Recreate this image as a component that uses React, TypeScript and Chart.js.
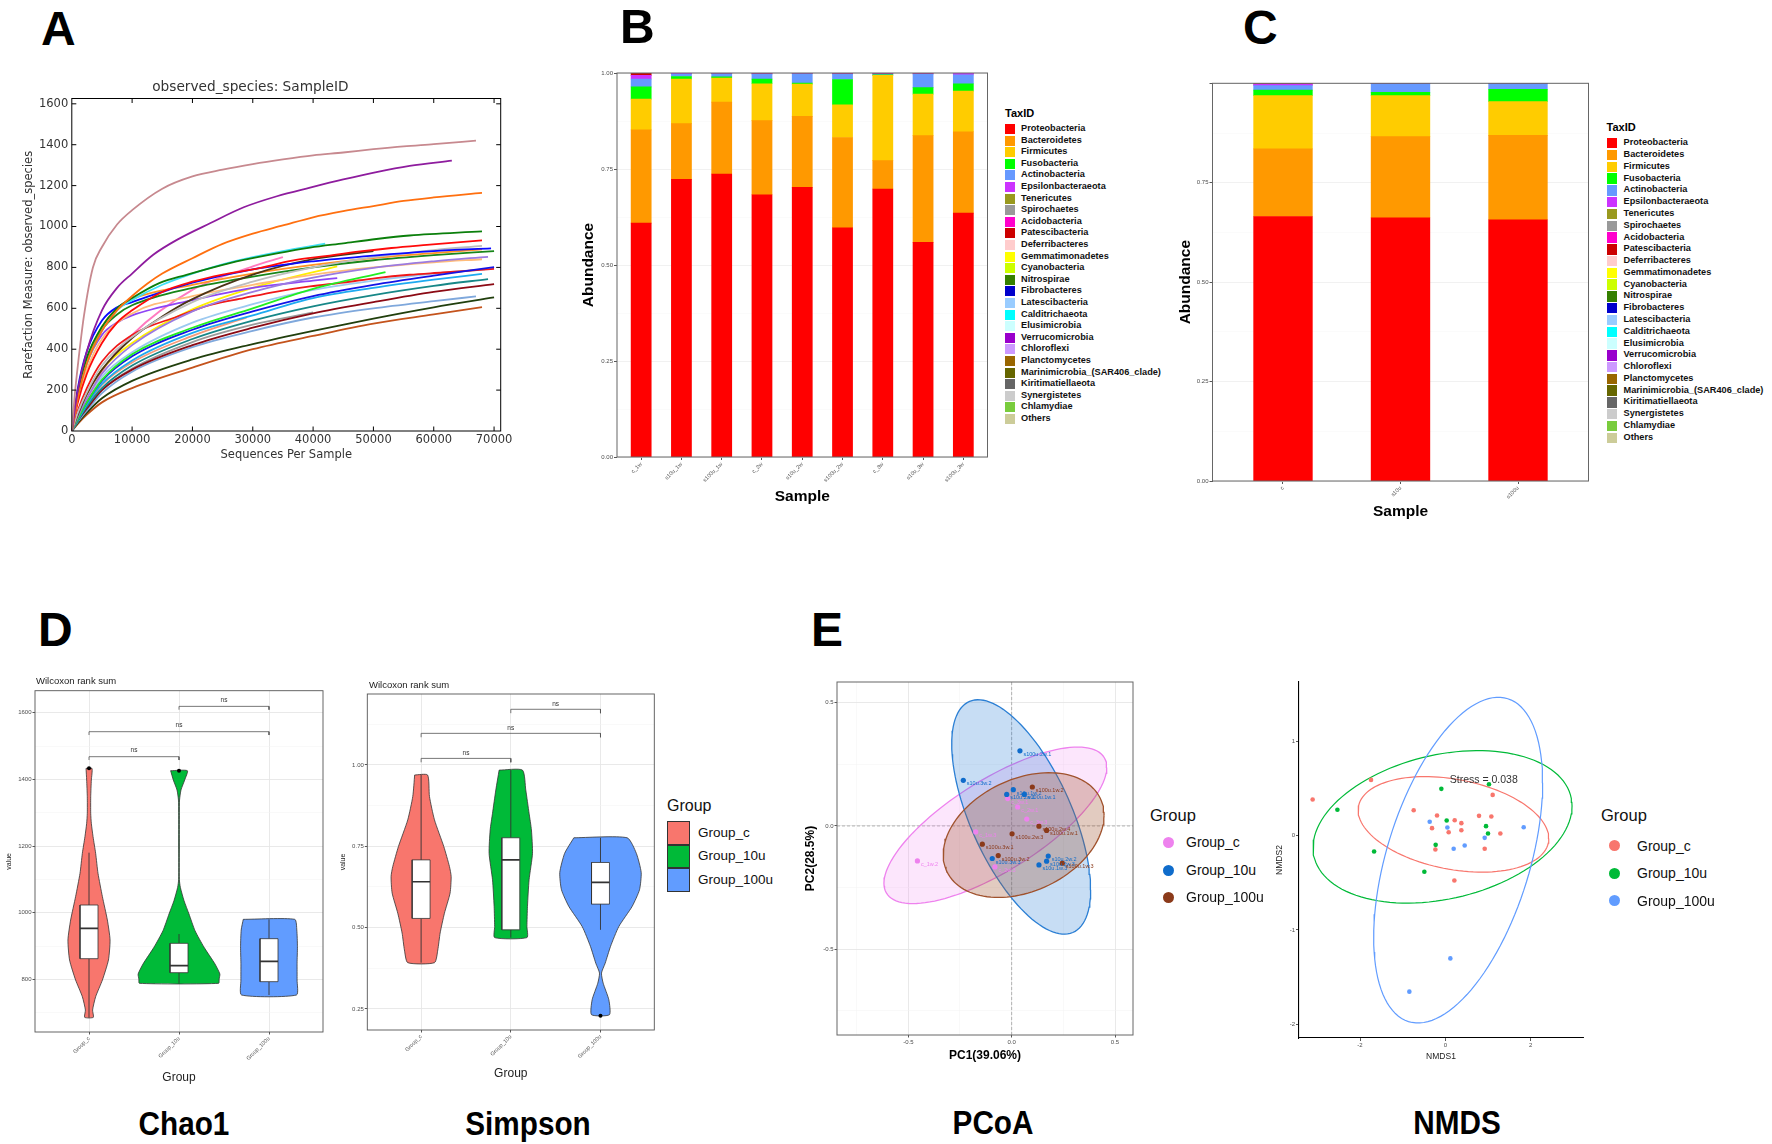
import React, { useEffect, useRef } from 'react';
import { Chart, registerables } from 'chart.js';

Chart.register(...registerables);
Chart.defaults.font.family = "'Liberation Sans', Arial, Helvetica, sans-serif";

// ================= Panel A : rarefaction curves =================
const rareXTicks = [0, 10000, 20000, 30000, 40000, 50000, 60000, 70000];
const rareYTicks = [0, 200, 400, 600, 800, 1000, 1200, 1400, 1600];
const rareColors = ['#C7898F', '#8E1C9E', '#FF6F0F', '#0B7F0B', '#3FE0F5', '#FF0A0A', '#0A0AFF', '#BDBDBD', '#4B3416', '#FF9124', '#18861A', '#9B7BE0', '#FFBC7A', '#22EE22', '#1414E6', '#F01818', '#1EAAF0', '#178787', '#8B0A14', '#7FA8DC', '#213F0D', '#C4531C', '#8F45F5', '#FFF000', '#FF7AC0', '#F59A78', '#9A9A9A', '#9CC9F0'];
const rare01 = [[0, 0], [500, 180], [1000, 320], [2000, 560], [3500, 800], [5000, 900], [7500, 1010], [10000, 1080], [15000, 1185], [20000, 1245], [25000, 1278], [30000, 1305], [35000, 1328], [40000, 1348], [45000, 1362], [50000, 1378], [55000, 1392], [60000, 1403], [67000, 1420]];
const rare02 = [[0, 0], [1000, 200], [2500, 390], [5000, 590], [7500, 700], [10000, 770], [13500, 862], [17500, 936], [23000, 1017], [28500, 1094], [34000, 1148], [39500, 1190], [45000, 1230], [50500, 1266], [56000, 1296], [63000, 1322]];
const rare03 = [[0, 0], [1000, 160], [2500, 330], [5000, 490], [7500, 590], [10000, 660], [12500, 720], [15000, 770], [20000, 845], [25000, 915], [30000, 965], [35000, 1005], [40000, 1045], [45000, 1075], [50000, 1100], [55000, 1125], [60000, 1142], [68000, 1164]];
const rare04 = [[0, 0], [1000, 190], [2500, 360], [5000, 510], [7500, 600], [10000, 650], [14500, 723], [19000, 764], [23000, 797], [28500, 837], [34000, 869], [39500, 897], [45000, 918], [50500, 939], [56000, 956], [68000, 976]];
const rare05 = [[0, 0], [1000, 170], [2500, 330], [5000, 490], [7500, 590], [10000, 640], [15000, 715], [20000, 770], [25000, 815], [30000, 850], [35000, 880], [42000, 916]];
const rare06 = [[0, 0], [1000, 140], [2500, 280], [5000, 430], [7500, 530], [10000, 590], [15000, 680], [20000, 730], [25000, 765], [30000, 790], [36750, 834], [42000, 855], [47800, 878], [53000, 895], [58850, 910], [68000, 932]];
const rare07 = [[0, 0], [1000, 210], [2500, 390], [5000, 540], [7500, 605], [10000, 630], [15000, 680], [20000, 725], [30000, 790], [40000, 830], [50000, 858], [60000, 880], [69500, 893]];
const rare08 = [[0, 0], [1000, 90], [2500, 190], [5000, 320], [10000, 460], [20000, 630], [30000, 730], [40000, 800], [50000, 850], [60000, 885], [68000, 905]];
const rare09 = [[0, 0], [1000, 80], [2500, 180], [5000, 300], [10000, 455], [15000, 560], [20000, 645], [30000, 765], [40000, 840], [50000, 880]];
const rare10 = [[0, 0], [1000, 180], [2500, 350], [5000, 510], [7500, 600], [10000, 645], [20000, 715], [30000, 770], [40000, 812], [50000, 845], [60000, 870], [68000, 888]];
const rare11 = [[0, 0], [1000, 180], [2500, 350], [5000, 495], [7500, 570], [10000, 615], [20000, 700], [30000, 755], [40000, 800], [50000, 835], [60000, 860], [70000, 880]];
const rare12 = [[0, 0], [1000, 70], [2500, 160], [5000, 280], [10000, 420], [20000, 585], [30000, 680], [40000, 750], [50000, 798], [60000, 830], [69000, 852]];
const rare13 = [[0, 0], [1000, 150], [2500, 300], [5000, 450], [10000, 575], [20000, 660], [30000, 715], [40000, 765], [50000, 800], [60000, 825], [68000, 840]];
const rare14 = [[0, 0], [1000, 60], [2500, 140], [5000, 250], [10000, 375], [20000, 505], [30000, 600], [40000, 695], [52000, 777]];
const rare15 = [[0, 0], [1000, 60], [2500, 140], [5000, 245], [10000, 365], [20000, 495], [30000, 585], [40000, 660], [50000, 715], [60000, 760], [70000, 801]];
const rare16 = [[0, 0], [1000, 100], [2500, 210], [5000, 340], [10000, 470], [17500, 560], [23000, 617], [28500, 650], [34000, 682], [39500, 707], [45000, 726], [50500, 748], [56000, 764], [61500, 775], [70000, 793]];
const rare17 = [[0, 0], [1000, 55], [2500, 130], [5000, 230], [10000, 345], [20000, 480], [30000, 565], [40000, 650], [50000, 700], [60000, 740], [68000, 768]];
const rare18 = [[0, 0], [1000, 50], [2500, 120], [5000, 210], [10000, 320], [20000, 450], [30000, 540], [40000, 610], [50000, 665], [60000, 710], [69000, 743]];
const rare19 = [[0, 0], [1000, 50], [2500, 110], [5000, 200], [10000, 300], [20000, 420], [30000, 505], [40000, 575], [50000, 630], [60000, 680], [70000, 718]];
const rare20 = [[0, 0], [1000, 45], [2500, 100], [5000, 185], [10000, 290], [20000, 410], [30000, 490], [40000, 555], [50000, 600], [60000, 635], [67000, 658]];
const rare21 = [[0, 0], [1000, 40], [2500, 90], [5000, 160], [10000, 245], [20000, 350], [30000, 425], [40000, 490], [50000, 550], [60000, 605], [70000, 653]];
const rare22 = [[0, 0], [1000, 35], [2500, 80], [5000, 140], [10000, 210], [20000, 310], [30000, 400], [40000, 465], [50000, 525], [60000, 570], [68000, 606]];
const rare23 = [[0, 0], [1000, 170], [2500, 330], [5000, 470], [7500, 530], [10000, 565], [20000, 640], [30000, 700], [40000, 735], [44000, 748]];
const rare24 = [[0, 0], [1000, 80], [2500, 180], [5000, 300], [10000, 430], [20000, 595], [30000, 700], [44000, 805]];
const rare25 = [[0, 0], [1000, 60], [2500, 150], [5000, 290], [10000, 470], [20000, 690], [30000, 805], [35000, 850]];
const rare26 = [[0, 0], [1000, 50], [2500, 120], [5000, 225], [10000, 335], [20000, 465], [29000, 555]];
const rare27 = [[0, 0], [1000, 45], [2500, 105], [5000, 200], [10000, 305], [20000, 435], [30000, 520], [40000, 580]];
const rare28 = [[0, 0], [1000, 65], [2500, 150], [5000, 265], [10000, 385], [20000, 530], [30000, 620], [40000, 690], [50000, 735], [60000, 770], [68500, 790]];
const rareCurves = [rare01, rare02, rare03, rare04, rare05, rare06, rare07, rare08, rare09, rare10, rare11, rare12, rare13, rare14, rare15, rare16, rare17, rare18, rare19, rare20, rare21, rare22, rare23, rare24, rare25, rare26, rare27, rare28];

// ================= Panels B / C : stacked abundance =================
const taxaNames = ['Proteobacteria', 'Bacteroidetes', 'Firmicutes', 'Fusobacteria', 'Actinobacteria', 'Epsilonbacteraeota', 'Tenericutes', 'Spirochaetes', 'Acidobacteria', 'Patescibacteria', 'Deferribacteres', 'Gemmatimonadetes', 'Cyanobacteria', 'Nitrospirae', 'Fibrobacteres', 'Latescibacteria', 'Calditrichaeota', 'Elusimicrobia', 'Verrucomicrobia', 'Chloroflexi', 'Planctomycetes', 'Marinimicrobia_(SAR406_clade)', 'Kiritimatiellaeota', 'Synergistetes', 'Chlamydiae', 'Others'];
const taxaColors = ['#FF0000', '#FF9900', '#FFCC00', '#00FF00', '#6699FF', '#CC33FF', '#99991E', '#999999', '#FF00CC', '#CC0000', '#FFCCCC', '#FFFF00', '#CCFF00', '#358000', '#0000CC', '#99CCFF', '#00FFFF', '#CCFFFF', '#9900CC', '#CC99FF', '#996600', '#666600', '#666666', '#CCCCCC', '#79CC3D', '#CCCC99'];

const samplesB = ['c_1w', 's10u_1w', 's100u_1w', 'c_2w', 's10u_2w', 's100u_2w', 'c_3w', 's10u_3w', 's100u_3w'];
const proteoB = [0.609, 0.723, 0.737, 0.683, 0.702, 0.597, 0.698, 0.559, 0.635];
const bacterB = [0.243, 0.145, 0.187, 0.193, 0.185, 0.235, 0.074, 0.278, 0.212];
const firmB = [0.080, 0.116, 0.063, 0.096, 0.084, 0.085, 0.222, 0.108, 0.106];
const fusoB = [0.032, 0.007, 0.003, 0.012, 0.003, 0.066, 0.001, 0.017, 0.019];
const actinoB = [0.020, 0.006, 0.008, 0.013, 0.024, 0.014, 0.002, 0.035, 0.023];
const epsilonB = [0.010, 0.002, 0.000, 0.001, 0.000, 0.001, 0.001, 0.001, 0.004];
const patesciB = [0.006, 0.001, 0.002, 0.002, 0.002, 0.002, 0.002, 0.002, 0.001];
const seriesB = [proteoB, bacterB, firmB, fusoB, actinoB, epsilonB, null, null, null, patesciB];

const samplesC = ['c', 's10u', 's100u'];
const proteoC = [0.665, 0.662, 0.657];
const bacterC = [0.170, 0.204, 0.212];
const firmC = [0.134, 0.103, 0.085];
const fusoC = [0.014, 0.008, 0.031];
const actinoC = [0.011, 0.022, 0.014];
const epsilonC = [0.004, 0.000, 0.000];
const patesciC = [0.002, 0.001, 0.001];
const seriesC = [proteoC, bacterC, firmC, fusoC, actinoC, epsilonC, null, null, null, patesciC];

const abundTicks = [0, 0.125, 0.25, 0.375, 0.5, 0.625, 0.75, 0.875, 1];

// ================= Panel D : violins =================
const groupNames = ['Group_c', 'Group_10u', 'Group_100u'];
const groupColors = ['#F8766D', '#00BA38', '#619CFF'];

const chaoC_y = [1433, 1398, 1348, 1298, 1268, 1228, 1178, 1118, 1048, 978, 918, 858, 798, 748, 708, 686];
const chaoC_w = [0.033, 0.026, 0.019, 0.019, 0.026, 0.045, 0.074, 0.100, 0.149, 0.204, 0.234, 0.216, 0.149, 0.074, 0.040, 0.048];
const chao10_y = [1426, 1398, 1368, 1338, 1300, 1200, 1100, 1076, 1036, 996, 946, 896, 846, 816, 801, 788];
const chao10_w = [0.093, 0.063, 0.022, 0.006, 0.004, 0.004, 0.004, 0.015, 0.056, 0.111, 0.178, 0.279, 0.400, 0.454, 0.446, 0.440];
const chao100_y = [980, 948, 898, 848, 798, 753];
const chao100_w = [0.286, 0.309, 0.316, 0.312, 0.312, 0.305];
const chaoBox = [[686, 862, 953, 1023, 1180], [788, 820, 841, 908, 936], [753, 793, 854, 922, 980]];
const chaoOut = [[1433], [1426], []];
const chaoBrackets = [[1, 2, 1468], [1, 3, 1543], [2, 3, 1619]];
const chaoTicks = [700, 800, 900, 1000, 1100, 1200, 1300, 1400, 1500, 1600];

const simC_y = [0.969, 0.903, 0.831, 0.749, 0.6875, 0.657, 0.606, 0.544, 0.483, 0.431, 0.392];
const simC_w = [0.072, 0.093, 0.149, 0.253, 0.316, 0.335, 0.323, 0.260, 0.212, 0.186, 0.149];
const sim10_y = [0.984, 0.923, 0.851, 0.800, 0.728, 0.647, 0.565, 0.503, 0.469];
const sim10_w = [0.130, 0.167, 0.204, 0.230, 0.242, 0.204, 0.186, 0.180, 0.180];
const sim100_y = [0.776, 0.728, 0.669, 0.616, 0.565, 0.503, 0.442, 0.390, 0.360, 0.329, 0.278, 0.232];
const sim100_w = [0.297, 0.400, 0.454, 0.435, 0.353, 0.204, 0.112, 0.052, 0.011, 0.030, 0.093, 0.100];
const simBox = [[0.392, 0.528, 0.641, 0.708, 0.969], [0.469, 0.493, 0.708, 0.776, 0.984], [0.493, 0.572, 0.639, 0.700, 0.776]];
const simOut = [[], [], [0.229]];
const simBrackets = [[1, 2, 1.02], [1, 3, 1.097], [2, 3, 1.171]];
const simTicks = [0.25, 0.375, 0.5, 0.625, 0.75, 0.875, 1.0, 1.125];

// ================= Panel E : PCoA =================
const pcoaColors = ['#EE82EE', '#0F6CCB', '#8B3A1A'];
const pcoaC_x = [-0.456, -0.174, -0.019, 0.029, 0.073, -0.081];
const pcoaC_y = [-0.142, -0.024, 0.111, 0.077, 0.028, -0.166];
const pcoaC_lab = ['c_1w.2', 'c_1w.3', 'c_3w.1', 'c_2w.1', 'c_3w.3', 'c_2w.3'];
const pcoa10_x = [0.040, -0.234, -0.024, 0.008, 0.061, -0.094, 0.177, 0.169, 0.132];
const pcoa10_y = [0.305, 0.185, 0.128, 0.147, 0.128, -0.132, -0.122, -0.143, -0.158];
const pcoa10_lab = ['s100u.2w.1', 's10u.3w.2', 's10u.2w.1', 's10u.1w.2', 's100u.1w.1', 's10u.3w.3', 's10u.2w.2', 's10u.2w.3', 's10u.1w.3'];
const pcoa100_x = [0.100, 0.132, 0.169, 0.002, -0.142, -0.065, 0.245];
const pcoa100_y = [0.158, -0.001, -0.018, -0.032, -0.074, -0.120, -0.151];
const pcoa100_lab = ['s100u.1w.2', 's100u.2w.4', 's100u.1w.1', 's100u.2w.3', 's100u.3w.1', 's100u.3w.2', 's100u.1w.3'];
// ellipse: [centre x, centre y, half x-extent, half y-extent, y-offset of right-most point]
const pcoaEllC = [-0.079, 0.0025, 0.539, 0.3175, 0.235];
const pcoaEll10 = [0.046, 0.0365, 0.336, 0.4755, -0.295];
const pcoaEll100 = [0.058, -0.037, 0.389, 0.253, 0.08];
const pcoaTicks = [-0.75, -0.5, -0.25, 0, 0.25, 0.5];

// ================= Panel E : NMDS =================
const nmdsC_x = [-3.11, -1.742, -0.742, -0.195, -0.3125, 0.078, 0.219, 0.375, 0.375, 0.789, 1.078, 1.109, 1.289, -0.234, 0.922, 0.211];
const nmdsC_y = [0.381, 0.589, 0.268, 0.212, 0.078, 0.035, 0.162, 0.131, 0.056, 0.208, 0.201, 0.430, 0.021, -0.148, -0.141, -0.476];
const nmds10_x = [-2.53, -0.094, 1.023, 0.031, 0.953, 1.0, -0.227, -1.67, -0.492];
const nmds10_y = [0.272, 0.494, 0.543, 0.159, 0.099, 0.021, -0.099, -0.169, -0.384];
const nmds100_x = [-0.367, 0.047, 0.922, 1.836, 0.195, 0.453, 0.117, -0.844];
const nmds100_y = [0.145, 0.085, -0.025, 0.088, -0.141, -0.106, -1.302, -1.654];
const nmdsEllC = [0.19, 0.118, 2.234, 0.506, -0.15];
const nmdsEll10 = [-0.066, 0.0915, 3.035, 0.8075, 0.22];
const nmdsEll100 = [0.30, -0.261, 1.98, 1.725, 0.82];
const nmdsXTicks = [-2, 0, 2];
const nmdsYTicks = [-2, -1, 0, 1];

// ================= helpers =================
const FF = "'Liberation Sans', Arial, Helvetica, sans-serif";
const DJ = "'DejaVu Sans', Verdana, sans-serif";

const fitW = (w: number) => (s: any) => { s.width = w; };
const fitH = (h: number) => (s: any) => { s.height = h; };
const ticksAt = (vals: number[]) => (s: any) => { s.ticks = vals.map((v) => ({ value: v })); };
const isMajor = (v: number, step: number) => Math.abs(v / step - Math.round(v / step)) < 1e-6;
const toPts = (xs: number[], ys: number[]) => xs.map((x, i) => ({ x, y: ys[i] }));

function ellipse(p: number[]) {
  const [cx, cy, rx, ry, dy] = p;
  const k = Math.sqrt(Math.max(ry * ry - dy * dy, 0));
  const out: any[] = [];
  for (let i = 0; i <= 120; i++) {
    const t = (i / 120) * Math.PI * 2;
    out.push({ x: cx + rx * Math.cos(t), y: cy + dy * Math.cos(t) + k * Math.sin(t) });
  }
  return out;
}

function violinOutline(cx: number, ys: number[], ws: number[]) {
  const left = ys.map((y, i) => ({ x: cx - ws[i], y }));
  const right = ys.map((y, i) => ({ x: cx + ws[i], y })).reverse();
  return [...left, ...right, left[0]];
}

const lineDs = (data: any[], color: string, width: number, order: number, extra: any = {}) => ({
  data, showLine: true, borderColor: color, borderWidth: width, pointRadius: 0, fill: false, order, ...extra,
});

function framePlugin(color: string, width: number) {
  return {
    id: 'frame',
    afterDatasetsDraw(chart: any) {
      const { ctx, chartArea: a } = chart;
      ctx.save();
      ctx.strokeStyle = color;
      ctx.lineWidth = width;
      ctx.strokeRect(a.left, a.top, a.right - a.left, a.bottom - a.top);
      ctx.restore();
    },
  };
}

function innerTicksPlugin(xs: number[], ys: number[], len: number) {
  return {
    id: 'innerTicks',
    afterDatasetsDraw(chart: any) {
      const { ctx, chartArea: a, scales } = chart;
      ctx.save();
      ctx.strokeStyle = '#000';
      ctx.lineWidth = 1;
      ctx.beginPath();
      xs.forEach((v) => {
        const px = scales.x.getPixelForValue(v);
        ctx.moveTo(px, a.bottom); ctx.lineTo(px, a.bottom - len);
        ctx.moveTo(px, a.top); ctx.lineTo(px, a.top + len);
      });
      ys.forEach((v) => {
        const py = scales.y.getPixelForValue(v);
        ctx.moveTo(a.left, py); ctx.lineTo(a.left + len, py);
        ctx.moveTo(a.right, py); ctx.lineTo(a.right - len, py);
      });
      ctx.stroke();
      ctx.restore();
    },
  };
}

function textPlugin(items: any[]) {
  return {
    id: 'texts',
    afterDatasetsDraw(chart: any) {
      const { ctx, scales } = chart;
      ctx.save();
      items.forEach((it) => {
        ctx.font = `${it.bold ? 'bold ' : ''}${it.size}px ${FF}`;
        ctx.fillStyle = it.color;
        ctx.textAlign = it.align || 'center';
        ctx.textBaseline = 'middle';
        ctx.fillText(it.text, scales.x.getPixelForValue(it.x) + (it.dx || 0), scales.y.getPixelForValue(it.y) + (it.dy || 0));
      });
      ctx.restore();
    },
  };
}

const baseOptions = (pad: any) => ({
  animation: false,
  responsive: false,
  devicePixelRatio: 1,
  events: [],
  layout: { padding: pad },
  plugins: { legend: { display: false }, tooltip: { enabled: false }, title: { display: false } },
});

// ggplot-like scale (theme_bw grid)
function ggScale(o: any) {
  const step = o.step;
  return {
    type: 'linear',
    min: o.min,
    max: o.max,
    offset: false,
    stacked: o.stacked,
    afterBuildTicks: ticksAt(o.ticks),
    afterFit: o.axis === 'x' ? fitH(o.size) : fitW(o.size),
    border: { display: !!o.border, color: '#000', width: 1.1 },
    grid: {
      display: true,
      offset: false,
      drawOnChartArea: o.drawGrid !== false,
      drawTicks: true,
      tickLength: o.tickLength ?? 2.5,
      color: (c: any) => (c.tick && isMajor(c.tick.value, step) ? (o.majorColor || '#E6E6E6') : (o.minorColor || '#F3F3F3')),
      lineWidth: (c: any) => (c.tick && isMajor(c.tick.value, step) ? 0.9 : 0.5),
      tickColor: (c: any) => (c.tick && isMajor(c.tick.value, step) ? '#444' : 'rgba(0,0,0,0)'),
    },
    ticks: {
      autoSkip: false,
      color: '#4D4D4D',
      font: { size: o.tickSize || 6, family: FF },
      padding: o.tickPad ?? 1,
      minRotation: o.rot || 0,
      maxRotation: o.rot || 0,
      callback: (v: number) => (isMajor(v, step) && (!o.hide || o.hide.indexOf(v) < 0) ? o.fmt(v) : ''),
    },
    title: o.title
      ? { display: true, text: o.title, color: o.titleColor || '#000', font: { size: o.titleSize, weight: o.titleBold ? 'bold' : 'normal', family: FF }, padding: o.titlePad }
      : { display: false },
  };
}

// ================= chart factories =================
function makeA() {
  const datasets = rareCurves.map((c, i) => ({
    data: c.map(([x, y]) => ({ x, y })),
    showLine: true,
    borderColor: rareColors[i],
    borderWidth: 1.8,
    pointRadius: 0,
    fill: false,
    cubicInterpolationMode: 'monotone',
  }));
  const font = { family: DJ, size: 11.5 };
  return {
    type: 'scatter',
    data: { datasets },
    options: {
      ...baseOptions({ left: 0, top: 38.5 - (13.7 * 1.2 + 3), right: 24.3, bottom: 0 }),
      plugins: {
        legend: { display: false },
        tooltip: { enabled: false },
        title: { display: true, text: 'observed_species: SampleID', color: '#333', font: { family: DJ, size: 13.7, weight: 'normal' }, padding: { top: 0, bottom: 3 } },
      },
      scales: {
        x: {
          type: 'linear', min: 0, max: 71100,
          afterBuildTicks: ticksAt(rareXTicks), afterFit: fitH(39),
          grid: { display: false, drawTicks: false }, border: { display: false },
          ticks: { autoSkip: false, maxRotation: 0, color: '#333', font, padding: 2.5, callback: (v: number) => String(v) },
          title: { display: true, text: 'Sequences Per Sample', color: '#333', font, padding: { top: 0, bottom: 7.8 } },
        },
        y: {
          type: 'linear', min: 0, max: 1626,
          afterBuildTicks: ticksAt(rareYTicks), afterFit: fitW(71.8),
          grid: { display: false, drawTicks: false }, border: { display: false },
          ticks: { autoSkip: false, color: '#333', font, padding: 3.6, callback: (v: number) => String(v) },
          title: { display: true, text: 'Rarefaction Measure: observed_species', color: '#333', font, padding: { top: 21.8, bottom: 0 } },
        },
      },
    },
    plugins: [framePlugin('#000', 1), innerTicksPlugin(rareXTicks.slice(1, -1).concat([70000]), rareYTicks.slice(1), 4.5)],
  };
}

function makeAbund(samples: string[], series: any[], cfg: any) {
  const datasets: any[] = [];
  series.forEach((vals, ti) => {
    if (!vals) return;
    datasets.push({
      type: 'bar',
      label: taxaNames[ti],
      data: vals.map((v: number, i: number) => ({ x: i + 1, y: v })),
      backgroundColor: taxaColors[ti],
      borderWidth: 0,
      barThickness: cfg.barPx,
    });
  });
  const n = samples.length;
  return {
    type: 'bar',
    data: { datasets },
    options: {
      ...baseOptions({ left: 0, top: cfg.top, right: cfg.right, bottom: 0 }),
      scales: {
        x: {
          type: 'linear', min: 0.4, max: n + 0.6, stacked: true, offset: false,
          afterBuildTicks: ticksAt(samples.map((_, i) => i + 1)), afterFit: fitH(cfg.xh),
          border: { display: false },
          grid: { display: true, offset: false, drawOnChartArea: false, drawTicks: true, tickLength: 3, tickColor: '#555' },
          ticks: { autoSkip: false, minRotation: 45, maxRotation: 45, color: '#4D4D4D', font: { size: 5.5, family: FF }, padding: 1, callback: (v: number) => samples[Math.round(v) - 1] || '' },
          title: { display: true, text: 'Sample', color: '#000', font: { size: 15.5, weight: 'bold', family: FF }, padding: { top: 0, bottom: cfg.xtp } },
        },
        y: ggScale({
          axis: 'y', min: 0, max: 1, step: 0.25, ticks: abundTicks, size: cfg.yw, stacked: true,
          fmt: (v: number) => v.toFixed(2), hide: cfg.hide, tickLength: 3, majorColor: '#EFEFEF', minorColor: '#F7F7F7',
          title: 'Abundance', titleSize: 15.5, titleBold: true, titlePad: { top: cfg.ytp, bottom: 0 },
        }),
      },
    },
    plugins: [framePlugin('#666', 1)],
  };
}

function violinDatasets(cx: number, ys: number[], ws: number[], color: string, box: number[], outliers: number[]) {
  const [lo, q1, md, q3, hi] = box;
  const hb = 0.1;
  const ds: any[] = [
    lineDs(violinOutline(cx, ys, ws), '#333', 0.8, 10, { fill: 'shape', backgroundColor: color, tension: 0.2 }),
    lineDs([{ x: cx, y: lo }, { x: cx, y: q1 }], '#333', 0.9, 9),
    lineDs([{ x: cx, y: q3 }, { x: cx, y: hi }], '#333', 0.9, 9),
    lineDs([{ x: cx - hb, y: q1 }, { x: cx + hb, y: q1 }, { x: cx + hb, y: q3 }, { x: cx - hb, y: q3 }, { x: cx - hb, y: q1 }], '#333', 0.8, 8, { fill: 'shape', backgroundColor: '#FFFFFF' }),
    lineDs([{ x: cx - hb, y: md }, { x: cx + hb, y: md }], '#333', 1.6, 7),
  ];
  if (outliers.length) ds.push({ data: outliers.map((y) => ({ x: cx, y })), pointRadius: 2, backgroundColor: '#000', borderWidth: 0, order: 6 });
  return ds;
}

function makeViolin(cfg: any) {
  let datasets: any[] = [];
  cfg.groups.forEach((g: any, i: number) => {
    datasets = datasets.concat(violinDatasets(i + 1, g[0], g[1], groupColors[i], cfg.box[i], cfg.out[i]));
  });
  const labels: any[] = [];
  cfg.brackets.forEach(([a, b, y]: number[]) => {
    datasets.push(lineDs([{ x: a, y: y - cfg.tick }, { x: a, y }, { x: b, y }, { x: b, y: y - cfg.tick }], '#555', 0.8, 5));
    labels.push({ x: (a + b) / 2, y: y + cfg.nsOff, text: 'ns', color: '#333', size: 6.5 });
  });
  return {
    type: 'scatter',
    data: { datasets },
    options: {
      ...baseOptions({ left: 0, top: cfg.top, right: cfg.right, bottom: 0 }),
      scales: {
        x: ggScale({
          axis: 'x', min: 0.4, max: 3.6, step: 1, ticks: [1, 2, 3], size: cfg.xh, rot: 45, tickSize: 5.5,
          fmt: (v: number) => groupNames[v - 1], title: 'Group', titleSize: 12, titleColor: '#222', titlePad: { top: 0, bottom: cfg.xtp },
        }),
        y: ggScale({
          axis: 'y', min: cfg.ymin, max: cfg.ymax, step: cfg.ystep, ticks: cfg.yticks, size: cfg.yw,
          fmt: cfg.fmt, title: 'value', titleSize: 7, titleColor: '#222', titlePad: { top: cfg.ytp, bottom: 0 },
        }),
      },
    },
    plugins: [framePlugin('#555', 0.9), textPlugin(labels)],
  };
}

function makePcoa() {
  const groups = [
    [pcoaC_x, pcoaC_y, pcoaC_lab, pcoaEllC],
    [pcoa10_x, pcoa10_y, pcoa10_lab, pcoaEll10],
    [pcoa100_x, pcoa100_y, pcoa100_lab, pcoaEll100],
  ];
  const fills = ['rgba(238,130,238,0.2)', 'rgba(31,120,210,0.25)', 'rgba(160,82,45,0.3)'];
  const strokes = ['#EE82EE', '#2B7FD4', '#A0522D'];
  const datasets: any[] = [
    lineDs([{ x: 0, y: -0.848 }, { x: 0, y: 0.584 }], '#999', 0.7, 30, { borderDash: [3, 2] }),
    lineDs([{ x: -0.845, y: 0 }, { x: 0.587, y: 0 }], '#999', 0.7, 30, { borderDash: [3, 2] }),
  ];
  const labels: any[] = [];
  groups.forEach((g: any, i) => {
    datasets.push(lineDs(ellipse(g[3]), strokes[i], 1.3, 22 - i, { fill: 'shape', backgroundColor: fills[i] }));
    datasets.push({ data: toPts(g[0], g[1]), pointRadius: 2.6, backgroundColor: pcoaColors[i], borderWidth: 0, order: 5 - i });
    g[2].forEach((t: string, k: number) => labels.push({ x: g[0][k], y: g[1][k], text: t, color: pcoaColors[i], size: 5.5, align: 'left', dx: 3.5, dy: 3.5 }));
  });
  return {
    type: 'scatter',
    data: { datasets },
    options: {
      ...baseOptions({ left: 0, top: 12, right: 7, bottom: 0 }),
      scales: {
        x: ggScale({
          axis: 'x', min: -0.845, max: 0.587, step: 0.5, ticks: pcoaTicks, size: 40, fmt: (v: number) => v.toFixed(1),
          title: 'PC1(39.06%)', titleSize: 12, titleBold: true, titlePad: { top: 0, bottom: 11.8 },
        }),
        y: ggScale({
          axis: 'y', min: -0.848, max: 0.584, step: 0.5, ticks: pcoaTicks, size: 42, fmt: (v: number) => v.toFixed(1),
          title: 'PC2(28.5%)', titleSize: 12, titleBold: true, titlePad: { top: 8.8, bottom: 0 },
        }),
      },
    },
    plugins: [framePlugin('#666', 1), textPlugin(labels)],
  };
}

function makeNmds() {
  const groups = [[nmdsC_x, nmdsC_y, nmdsEllC], [nmds10_x, nmds10_y, nmdsEll10], [nmds100_x, nmds100_y, nmdsEll100]];
  const datasets: any[] = [];
  groups.forEach((g: any, i) => {
    datasets.push(lineDs(ellipse(g[2]), groupColors[i], 1.2, 20 - i));
    datasets.push({ data: toPts(g[0], g[1]), pointRadius: 2.3, backgroundColor: groupColors[i], borderWidth: 0, order: 5 - i });
  });
  return {
    type: 'scatter',
    data: { datasets },
    options: {
      ...baseOptions({ left: 0, top: 12, right: 12, bottom: 0 }),
      scales: {
        x: ggScale({
          axis: 'x', min: -3.43, max: 3.226, step: 1, ticks: nmdsXTicks, size: 37, border: true, drawGrid: false, tickLength: 3,
          fmt: (v: number) => String(v), title: 'NMDS1', titleSize: 8.5, titleColor: '#222', titlePad: { top: 0, bottom: 12.9 },
        }),
        y: ggScale({
          axis: 'y', min: -2.145, max: 1.626, step: 1, ticks: nmdsYTicks, size: 37, border: true, drawGrid: false, tickLength: 3,
          fmt: (v: number) => String(v), title: 'NMDS2', titleSize: 8.5, titleColor: '#222', titlePad: { top: 12.9, bottom: 0 },
        }),
      },
    },
    plugins: [textPlugin([{ x: 0.9, y: 0.59, text: 'Stress = 0.038', color: '#333', size: 10.5 }])],
  };
}

// ================= components =================
function ChartCanvas({ left, top, width, height, make }: any) {
  const ref = useRef<HTMLCanvasElement>(null);
  useEffect(() => {
    const chart = new Chart(ref.current as HTMLCanvasElement, make());
    return () => chart.destroy();
  }, []);
  return <canvas ref={ref} width={width} height={height} style={{ position: 'absolute', left, top, width, height }} />;
}

function Txt({ x, y, size, bold, color, align, children, sx, font }: any) {
  const tx = align === 'center' ? '-50%' : '0';
  return (
    <div
      style={{
        position: 'absolute', left: x, top: y, whiteSpace: 'nowrap', lineHeight: 1,
        fontFamily: font || FF, fontSize: size, fontWeight: bold ? 'bold' : 'normal', color: color || '#000',
        transform: `translate(${tx}, -50%)${sx ? ` scaleX(${sx})` : ''}`, transformOrigin: 'center',
      }}
    >
      {children}
    </div>
  );
}

function TaxaLegend({ x, titleY, firstY, step, sw, sh, textX, size }: any) {
  return (
    <>
      <Txt x={x} y={titleY} size={11} bold>TaxID</Txt>
      {taxaNames.map((n, i) => (
        <React.Fragment key={n}>
          <div style={{ position: 'absolute', left: x, top: firstY + i * step - sh / 2, width: sw, height: sh, background: taxaColors[i] }} />
          <Txt x={textX} y={firstY + i * step} size={size} bold color="#111">{n}</Txt>
        </React.Fragment>
      ))}
    </>
  );
}

function GroupRectLegend() {
  const tops = [821, 844.6, 868.2];
  return (
    <>
      <Txt x={667} y={806} size={16} color="#111">Group</Txt>
      {groupNames.map((n, i) => (
        <React.Fragment key={n}>
          <div style={{ position: 'absolute', left: 667, top: tops[i], width: 23, height: 23.6, background: groupColors[i], border: '1.3px solid #333', boxSizing: 'border-box' }} />
          <Txt x={698} y={tops[i] + 11.8} size={13.5} color="#111">{n}</Txt>
        </React.Fragment>
      ))}
    </>
  );
}

function DotLegend({ x, dotX, textX, ys, colors }: any) {
  return (
    <>
      <Txt x={x} y={815} size={16.5} color="#111">Group</Txt>
      {groupNames.map((n, i) => (
        <React.Fragment key={n}>
          <div style={{ position: 'absolute', left: dotX - 5.5, top: ys[i] - 5.5, width: 11, height: 11, borderRadius: '50%', background: colors[i] }} />
          <Txt x={textX} y={ys[i]} size={14} color="#111">{n}</Txt>
        </React.Fragment>
      ))}
    </>
  );
}

export default function App() {
  useEffect(() => {
    document.body.style.margin = '0';
    document.body.style.background = '#fff';
  }, []);
  const letter = 48;
  const cap = 33;
  return (
    <div style={{ position: 'absolute', left: 0, top: 0, width: 1772, height: 1144, background: '#fff', overflow: 'hidden' }}>
      <ChartCanvas left={0} top={60} width={525} height={410} make={makeA} />
      <ChartCanvas left={570} top={50} width={430} height={465}
        make={() => makeAbund(samplesB, seriesB, { barPx: 20.1, top: 23, right: 12.5, xh: 58, yw: 47, xtp: 8.7, ytp: 9.7 })} />
      <ChartCanvas left={1165} top={60} width={435} height={470}
        make={() => makeAbund(samplesC, seriesC, { barPx: 58.7, top: 23.3, right: 11.5, xh: 49, yw: 47.5, xtp: 8.7, ytp: 11.7, hide: [1] })} />
      <ChartCanvas left={0} top={670} width={330} height={420}
        make={() => makeViolin({
          groups: [[chaoC_y, chaoC_w], [chao10_y, chao10_w], [chao100_y, chao100_w]], box: chaoBox, out: chaoOut,
          brackets: chaoBrackets, tick: 10, nsOff: 18, ymin: 642, ymax: 1666, ystep: 200, yticks: chaoTicks,
          fmt: (v: number) => String(v), top: 20.7, right: 7, xh: 58, yw: 35, xtp: 4.8, ytp: 4.8,
        })} />
      <ChartCanvas left={335} top={670} width={325} height={420}
        make={() => makeViolin({
          groups: [[simC_y, simC_w], [sim10_y, sim10_w], [sim100_y, sim100_w]], box: simBox, out: simOut,
          brackets: simBrackets, tick: 0.012, nsOff: 0.016, ymin: 0.185, ymax: 1.218, ystep: 0.25, yticks: simTicks,
          fmt: (v: number) => v.toFixed(2), top: 24, right: 5.7, xh: 60, yw: 32.3, xtp: 9.5, ytp: 3.4,
        })} />
      <ChartCanvas left={795} top={670} width={345} height={405} make={makePcoa} />
      <ChartCanvas left={1262} top={670} width={333} height={405} make={makeNmds} />

      <Txt x={41} y={28.5} size={letter} bold>A</Txt>
      <Txt x={620} y={26.5} size={letter} bold>B</Txt>
      <Txt x={1243} y={27.5} size={letter} bold>C</Txt>
      <Txt x={38} y={630} size={letter} bold>D</Txt>
      <Txt x={811} y={630} size={letter} bold>E</Txt>

      <TaxaLegend x={1005} titleY={112.7} firstY={129} step={11.6} sw={9.5} sh={10.2} textX={1021} size={9.2} />
      <TaxaLegend x={1606.5} titleY={126.7} firstY={143.3} step={11.78} sw={10.2} sh={10.4} textX={1623.5} size={9.2} />

      <Txt x={36} y={681} size={9.5} color="#222">Wilcoxon rank sum</Txt>
      <Txt x={369} y={685} size={9.5} color="#222">Wilcoxon rank sum</Txt>
      <GroupRectLegend />
      <DotLegend x={1150} dotX={1168} textX={1186} ys={[842.3, 870.2, 897.4]} colors={pcoaColors} />
      <DotLegend x={1601} dotX={1614} textX={1637} ys={[845.8, 873, 900.6]} colors={groupColors} />

      <Txt x={183.5} y={1122.5} size={cap} bold align="center" sx={0.9}>Chao1</Txt>
      <Txt x={528} y={1122.5} size={cap} bold align="center" sx={0.9}>Simpson</Txt>
      <Txt x={993} y={1122} size={cap} bold align="center" sx={0.9}>PCoA</Txt>
      <Txt x={1457} y={1122} size={cap} bold align="center" sx={0.9}>NMDS</Txt>
    </div>
  );
}
